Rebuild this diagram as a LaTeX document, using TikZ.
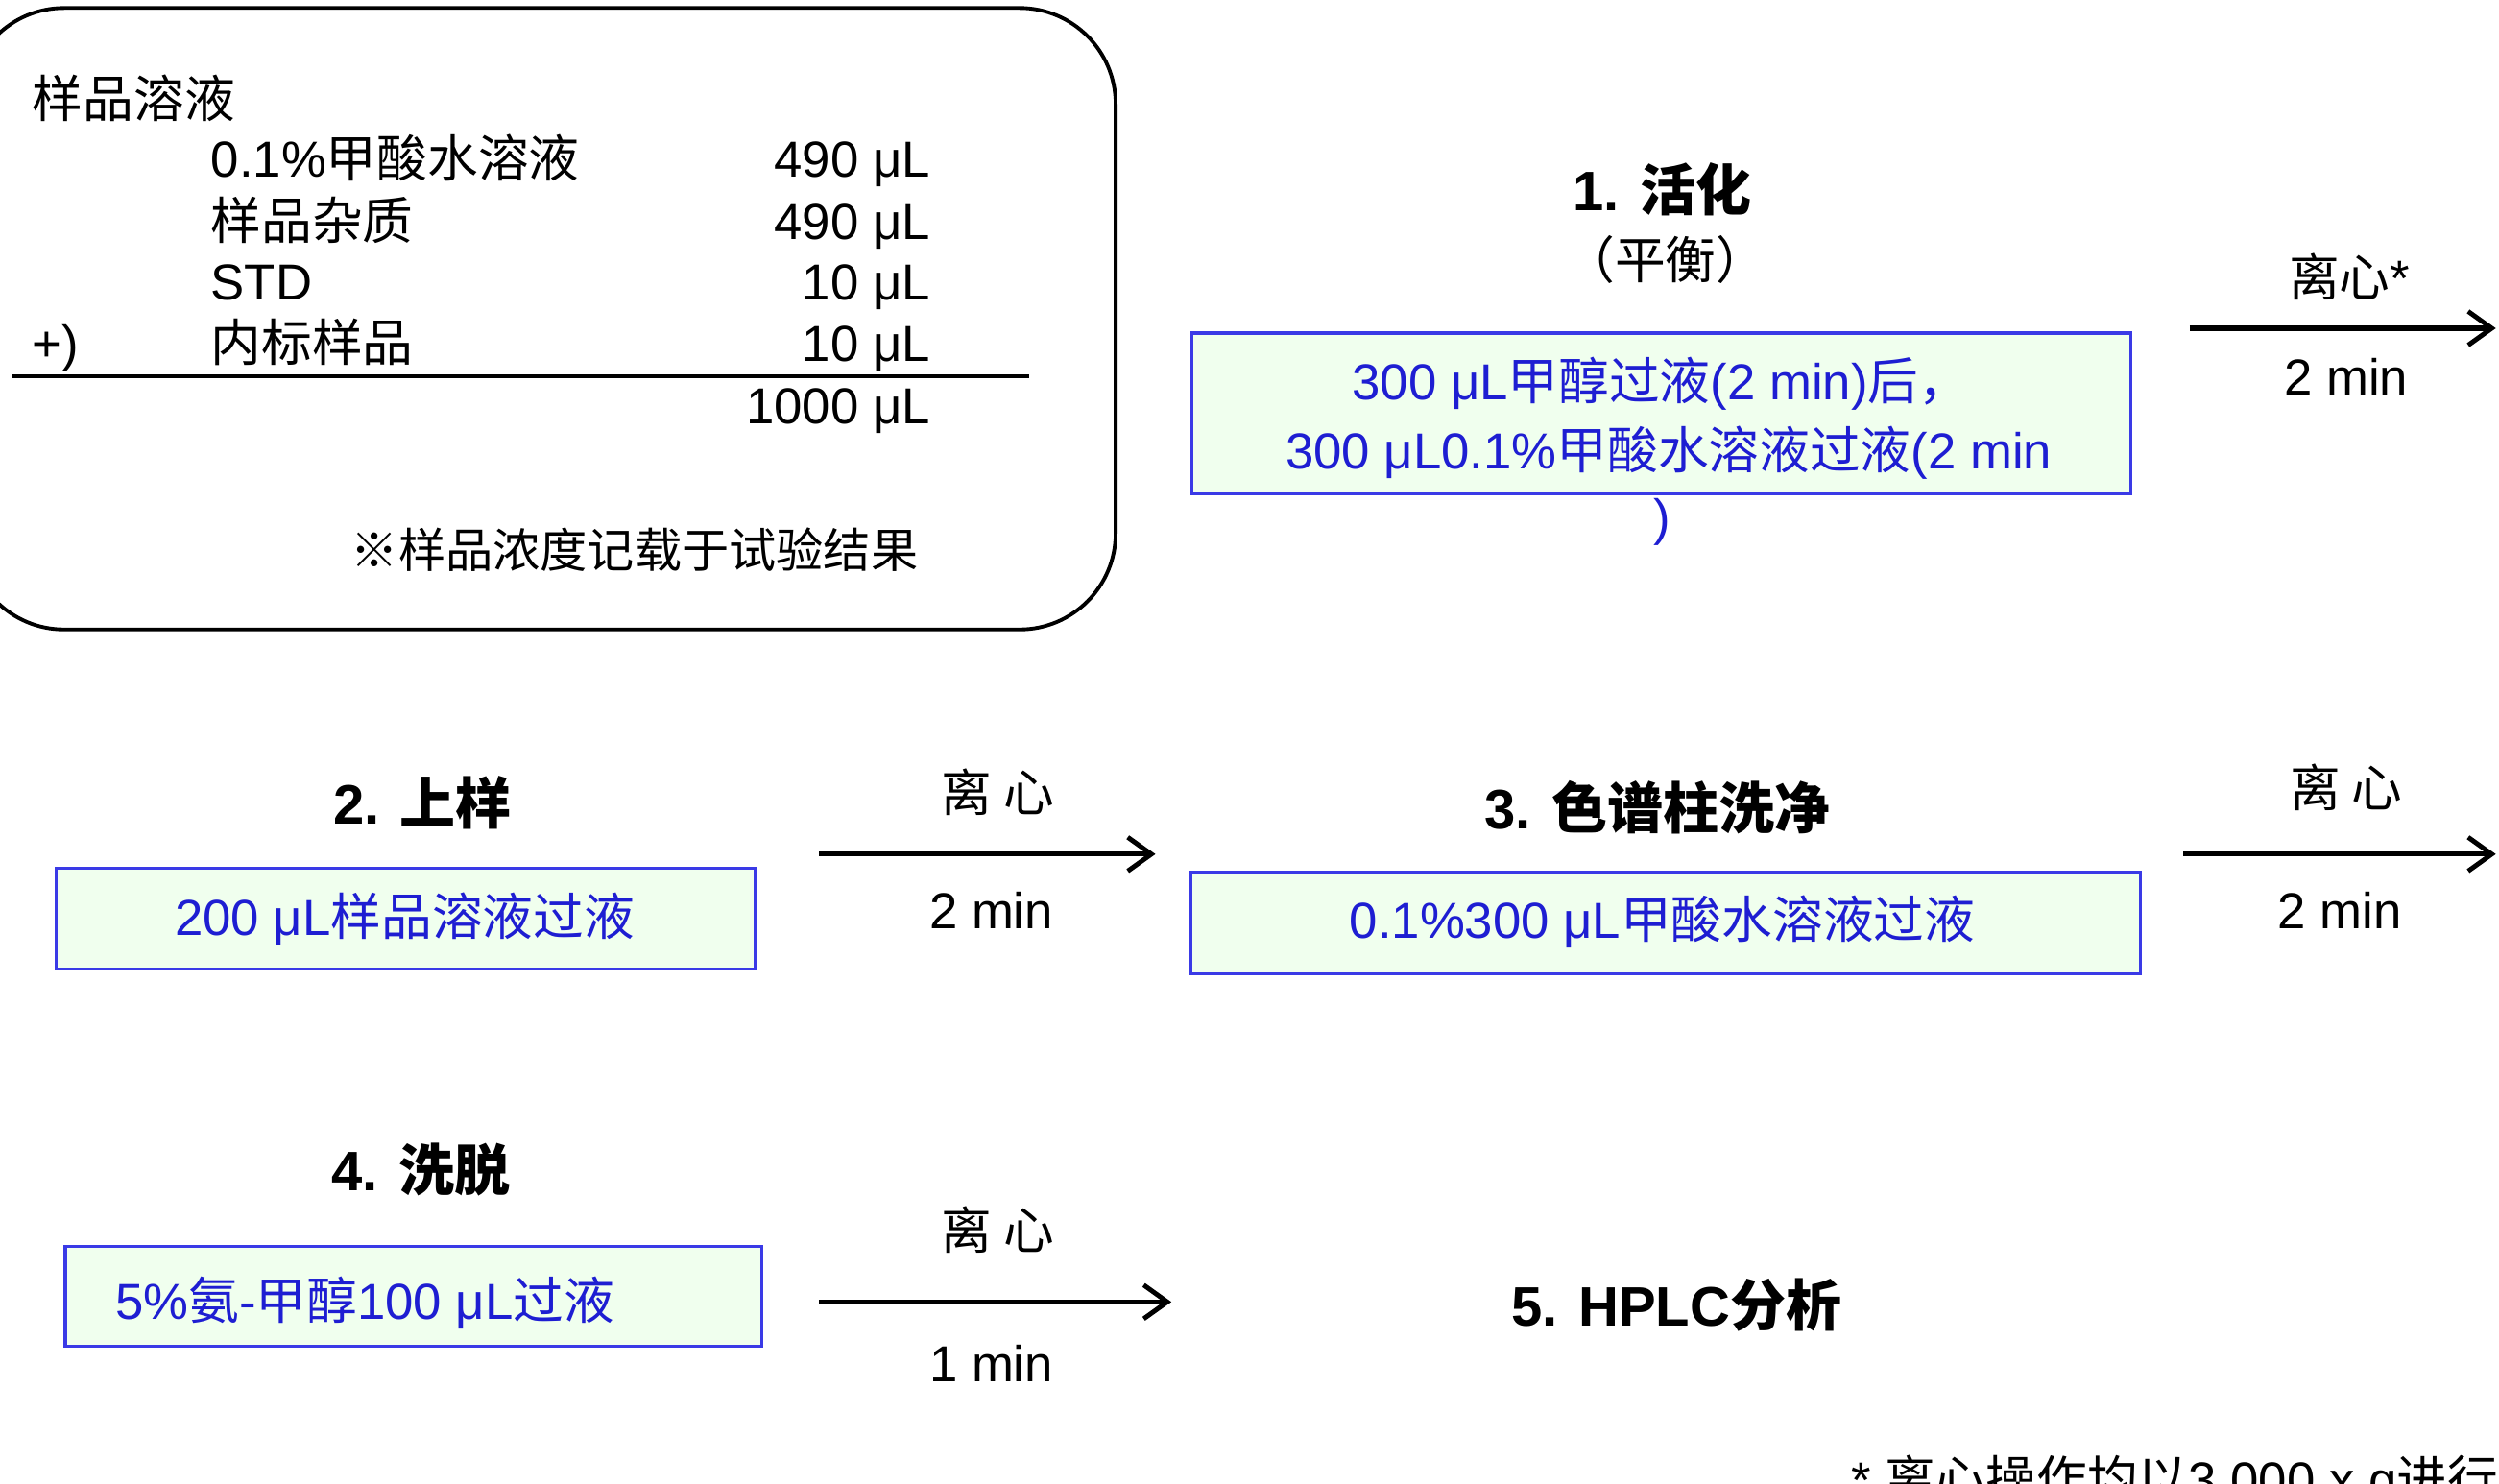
\documentclass[tikz,border=0pt]{standalone}
\usepackage{fontspec}
\setmainfont{Liberation Sans}
\newfontfamily\cjk{Noto Sans CJK SC}
\usetikzlibrary{arrows.meta,fit}
\definecolor{boxfill}{HTML}{F0FFEE}
\definecolor{boxline}{HTML}{3A3AE6}
\definecolor{boxtext}{HTML}{1E1ED2}
\begin{document}
\begin{tikzpicture}[x=0.0166cm,y=-0.0166cm,
  txt/.style={inner sep=0pt, font=\fontsize{15}{18}\selectfont},
  head/.style={inner sep=0pt, font=\fontsize{16.5}{20}\selectfont\bfseries},
  stepbox/.style={draw=boxline, fill=boxfill, line width=0.9pt, inner sep=0pt},
  btxt/.style={txt, text=boxtext},
  flow/.style={line width=1.5pt, -{Straight Barb[length=7pt,width=10pt,line width=1.4pt]}}
]
\useasboundingbox (0,0) rectangle (1568,931);
\clip (0,0) rectangle (1568,931);

% ---- mixture panel ----
\node[draw, line width=1.1pt, rounded corners=1cm, inner sep=0pt, fit={(-20,5) (700,395)}] (mix) {};
\node[txt, anchor=base west] (t0) at (20,74) {\cjk 样品溶液};
\node[txt, anchor=base west] (t1) at (132,111) {0.1\%{\cjk 甲酸水溶液}};
\node[txt, anchor=base east] (v1) at (584,111) {490 μL};
\node[txt, anchor=base west] (t2) at (132,150) {\cjk 样品杂质};
\node[txt, anchor=base east] (v2) at (584,150) {490 μL};
\node[txt, anchor=base west] (t3) at (132,188) {STD};
\node[txt, anchor=base east] (v3) at (584,188) {10 μL};
\node[txt, anchor=base west] (plus) at (20,227) {+)};
\node[txt, anchor=base west] (t4) at (132,227) {\cjk 内标样品};
\node[txt, anchor=base east] (v4) at (584,227) {10 μL};
\coordinate (ruleL) at (8,236);
\coordinate (ruleR) at (646,236);
\draw[line width=1pt] (ruleL) -- (ruleR);
\node[txt, anchor=base east] (vsum) at (584,266) {1000 μL};
\node[txt, anchor=base west, font=\fontsize{14}{17}\selectfont] (note) at (220,356) {\cjk ※样品浓度记载于试验结果};

% ---- step 1 ----
\node[head, anchor=base] (h1) at (1043,132) {1. {\cjk 活化}};
\node[txt, anchor=base] (h1b) at (1045,175) {\cjk （平衡）};
\node[stepbox, fit={(748,209) (1337,310)}] (box1) {};
\node[btxt, anchor=base] (b1a) at (1042,251) {300 μL{\cjk 甲醇过液}(2 min){\cjk 后，}};
\node[btxt, anchor=base] (b1b) at (1047,294) {300 μL0.1\%{\cjk 甲酸水溶液过液}(2 min};
\node[btxt, anchor=base] (b1c) at (1043,336) {)};
\coordinate (a1s) at (1374,206);
\coordinate (a1e) at (1566,206);
\draw[flow] (a1s) -- (a1e);
\node[txt, anchor=base] (a1t) at (1474,186) {{\cjk 离心}*};
\node[txt, anchor=base] (a1b) at (1472,248) {2 min};

% ---- step 2 ----
\node[head, anchor=base] (h2) at (265,517) {2. {\cjk 上样}};
\node[stepbox, fit={(35,545) (474,608)}] (box2) {};
\node[btxt, anchor=base] (b2) at (254,587) {200 μL{\cjk 样品溶液过液}};
\coordinate (a2s) at (514,536);
\coordinate (a2e) at (725,536);
\draw[flow] (a2s) -- (a2e);
\node[txt, anchor=base] (a2t) at (626,509) {\cjk 离 心};
\node[txt, anchor=base] (a2b) at (622,583) {2 min};

% ---- step 3 ----
\node[head, anchor=base] (h3) at (1040,520) {3. {\cjk 色谱柱洗净}};
\node[stepbox, fit={(747,547) (1343,611)}] (box3) {};
\node[btxt, anchor=base] (b3) at (1043,589) {0.1\%300 μL{\cjk 甲酸水溶液过液}};
\coordinate (a3s) at (1370,536);
\coordinate (a3e) at (1566,536);
\draw[flow] (a3s) -- (a3e);
\node[txt, anchor=base] (a3t) at (1472,506) {\cjk 离 心};
\node[txt, anchor=base] (a3b) at (1468,583) {2 min};

% ---- step 4 ----
\node[head, anchor=base] (h4) at (264,747) {4. {\cjk 洗脱}};
\node[stepbox, fit={(41,782) (478,845)}] (box4) {};
\node[btxt, anchor=base west] (b4) at (72,828) {5\%{\cjk 氨}-{\cjk 甲醇}100 μL{\cjk 过液}};
\coordinate (a4s) at (514,817);
\coordinate (a4e) at (735,817);
\draw[flow] (a4s) -- (a4e);
\node[txt, anchor=base] (a4t) at (626,784) {\cjk 离 心};
\node[txt, anchor=base] (a4b) at (622,867) {1 min};

% ---- step 5 ----
\node[head, anchor=base west] (h5) at (948,832) {5. HPLC{\cjk 分析}};

% ---- footnote ----
\node[txt, anchor=base west] (foot) at (1161,940) {* {\cjk 离心操作均以}3,000 x g{\cjk 进行}};
\end{tikzpicture}
\end{document}
